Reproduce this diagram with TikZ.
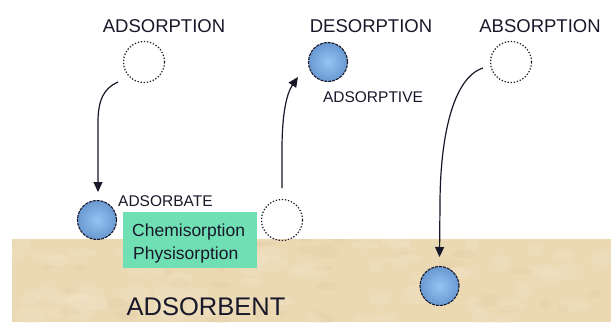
\documentclass[tikz,border=0pt]{standalone}
\usepackage{fontspec}
\setmainfont{Liberation Sans}
\usetikzlibrary{arrows.meta}
\definecolor{sand}{HTML}{EBD9B4}
\definecolor{sandlight}{HTML}{F2E4C8}
\definecolor{sanddark}{HTML}{DEC9A0}
\definecolor{mint}{HTML}{70E0B4}
\definecolor{ink}{HTML}{18182A}
\definecolor{ballin}{HTML}{92C4F4}
\definecolor{ballout}{HTML}{6A98D0}
\tikzset{
  lbl/.style={text=ink, inner sep=0pt, anchor=base},
  ghost/.style={circle, draw=ink, line width=1.2pt, dash pattern=on 1.3pt off 1.8pt, minimum size=41pt, inner sep=0pt},
  ball/.style={circle, draw=ink, line width=1.1pt, dash pattern=on 3pt off 1pt, minimum size=39pt, inner sep=0pt, inner color=ballin, outer color=ballout},
  move/.style={draw=ink, line width=1.2pt, -{Triangle[length=10pt,width=9pt]}},
}
\begin{document}
\begin{tikzpicture}[x=1pt,y=-1pt]
\useasboundingbox (0,0) rectangle (611,322);
\fill[white] (0,0) rectangle (611,322);
% adsorbent
\fill[sand] (12,239) rectangle (611,322);
\begin{scope}
\clip (12,239) rectangle (611,322);
\pgfmathsetseed{7}
\foreach \i in {1,...,70}{
  \pgfmathsetmacro{\px}{12+599*rnd}
  \pgfmathsetmacro{\py}{239+83*rnd}
  \pgfmathsetmacro{\rx}{6+14*rnd}
  \pgfmathsetmacro{\ry}{3+6*rnd}
  \fill[sandlight, opacity=0.35] (\px,\py) ellipse [x radius=\rx, y radius=\ry];
}
\foreach \i in {1,...,40}{
  \pgfmathsetmacro{\px}{12+599*rnd}
  \pgfmathsetmacro{\py}{239+83*rnd}
  \pgfmathsetmacro{\rx}{4+10*rnd}
  \pgfmathsetmacro{\ry}{2+4*rnd}
  \fill[sanddark, opacity=0.2] (\px,\py) ellipse [x radius=\rx, y radius=\ry];
}
\end{scope}
\node[lbl, font=\fontsize{25.5}{28}\selectfont] (adsorbent) at (206,315) {ADSORBENT};
% green box
\fill[mint] (123,212) rectangle (257,268);
\node[lbl, anchor=base west, font=\fontsize{17.5}{20}\selectfont] (chemi) at (132,236) {Chemisorption};
\node[lbl, anchor=base west, font=\fontsize{17.5}{20}\selectfont] (physi) at (133,259) {Physisorption};
% titles
\node[lbl, font=\fontsize{18.5}{20}\selectfont] (t1) at (164,32) {ADSORPTION};
\node[lbl, font=\fontsize{18.5}{20}\selectfont] (t2) at (371,32) {DESORPTION};
\node[lbl, font=\fontsize{18.5}{20}\selectfont] (t3) at (540,32) {ABSORPTION};
\node[lbl, font=\fontsize{15.5}{18}\selectfont] (adsorptive) at (373,102) {ADSORPTIVE};
\node[lbl, anchor=base west, font=\fontsize{15.5}{18}\selectfont] (adsorbate) at (118,206) {ADSORBATE};
% circles
\node[ghost] (g1) at (144,62) {};
\node[ghost] (g2) at (282,220) {};
\node[ghost] (g3) at (511,62) {};
\node[ball] (b1) at (97,220) {};
\node[ball] (b2) at (328,62) {};
\node[ball] (b3) at (439.5,286) {};
% arrows
\coordinate (s1) at (118,82);
\coordinate (e1) at (98,192);
\coordinate (s2) at (282,188);
\coordinate (e2) at (298,77);
\coordinate (s3) at (483,68);
\coordinate (e3) at (439.5,257);
\draw[move] (s1) .. controls (104,88) and (98,100) .. (98,122) -- (e1);
\draw[move] (s2) -- (282,150) .. controls (282,112) and (287,93) .. (e2);
\draw[move] (s3) .. controls (452,78) and (440,140) .. (440,205) -- (e3);
\end{tikzpicture}
\end{document}
